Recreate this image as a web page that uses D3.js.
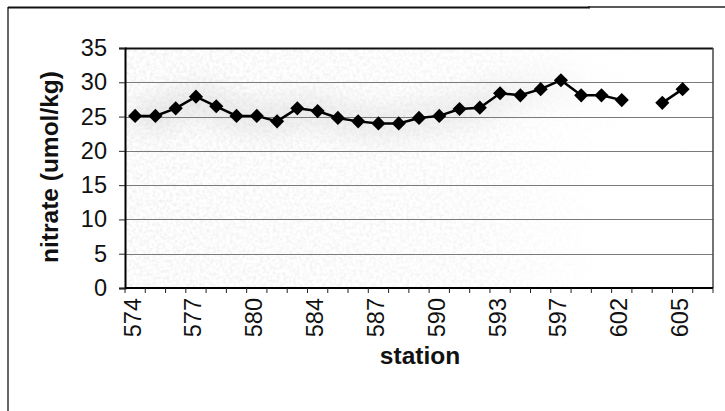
<!DOCTYPE html>
<html>
<head>
<meta charset="utf-8">
<script src="https://cdn.jsdelivr.net/npm/d3@7"></script>
<style>
  html, body { margin: 0; padding: 0; background: #fff; }
  svg { display: block; }
</style>
</head>
<body>
<svg id="chart" width="725" height="411"></svg>
<script>
// Stations along the transect (only every third one is labelled)
const stations = ["574","575","576","577","578","579","580","581","583","584",
                  "585","586","587","588","589","590","591","592","593","594",
                  "596","597","598","600","602","603","604","605","606"];
// Nitrate concentration (umol/kg); null = no sample
const nitrate = [25.1, 25.1, 26.2, 27.9, 26.5, 25.1, 25.1, 24.3, 26.2, 25.8,
                 24.8, 24.3, 24.0, 24.0, 24.8, 25.1, 26.1, 26.3, 28.4, 28.1,
                 29.0, 30.3, 28.1, 28.1, 27.4, null, 27.0, 29.0, null];
const labelledStations = ["574","577","580","584","587","590","593","597","602","605"];
const yTicks = [0, 5, 10, 15, 20, 25, 30, 35];

const svg = d3.select("#chart");
const plot = { left: 125, right: 713, top: 48, bottom: 288 };
const font = "'Liberation Sans', Arial, sans-serif";

const x = d3.scaleBand().domain(stations).range([plot.left, plot.right]).padding(0);
const y = d3.scaleLinear().domain([0, 35]).range([plot.bottom, plot.top]);

// outer chart frame (left and top edges)
svg.append("line").attr("x1", 8).attr("x2", 8).attr("y1", 7).attr("y2", 411)
  .attr("stroke", "#333").attr("stroke-width", 1.5);
svg.append("line").attr("x1", 8).attr("x2", 590).attr("y1", 7.5).attr("y2", 7.5)
  .attr("stroke", "#111").attr("stroke-width", 2);
svg.append("line").attr("x1", 588).attr("x2", 725).attr("y1", 7).attr("y2", 7)
  .attr("stroke", "#222").attr("stroke-width", 1.5);

// plot-area shading: grainy grey wash, heavier on the left half
const defs = svg.append("defs");
const grain = defs.append("filter").attr("id", "grain")
  .attr("x", 0).attr("y", 0).attr("width", 1).attr("height", 1);
grain.append("feTurbulence").attr("type", "fractalNoise")
  .attr("baseFrequency", 0.3).attr("numOctaves", 3).attr("seed", 11).attr("result", "n");
grain.append("feColorMatrix").attr("in", "n").attr("type", "matrix")
  .attr("values", "0 0 0 0 0.6  0 0 0 0 0.6  0 0 0 0 0.6  0 0 0 -1.3 0.85");
grain.append("feComposite").attr("in2", "SourceGraphic").attr("operator", "in");

const fade = defs.append("linearGradient").attr("id", "fade")
  .attr("x1", 0).attr("x2", 1).attr("y1", 0).attr("y2", 0);
fade.append("stop").attr("offset", 0).attr("stop-color", "#fff").attr("stop-opacity", 1);
fade.append("stop").attr("offset", 0.6).attr("stop-color", "#fff").attr("stop-opacity", 0.75);
fade.append("stop").attr("offset", 0.8).attr("stop-color", "#fff").attr("stop-opacity", 0.1);
fade.append("stop").attr("offset", 1).attr("stop-color", "#fff").attr("stop-opacity", 0);
defs.append("mask").attr("id", "fadeMask")
  .append("rect").attr("x", plot.left).attr("y", plot.top)
  .attr("width", plot.right - plot.left).attr("height", plot.bottom - plot.top)
  .attr("fill", "url(#fade)");

defs.append("filter").attr("id", "soft")
  .attr("x", -0.2).attr("y", -1).attr("width", 1.4).attr("height", 3)
  .append("feGaussianBlur").attr("stdDeviation", 12);
defs.append("clipPath").attr("id", "plotClip").append("rect")
  .attr("x", plot.left).attr("y", plot.top)
  .attr("width", plot.right - plot.left).attr("height", plot.bottom - plot.top);

const wash = svg.append("g").attr("clip-path", "url(#plotClip)").attr("mask", "url(#fadeMask)");
wash.append("rect").attr("x", plot.left).attr("y", plot.top)
  .attr("width", plot.right - plot.left).attr("height", plot.bottom - plot.top)
  .attr("fill", "#fff").attr("filter", "url(#grain)").attr("opacity", 0.45);
// soft smudge behind the data trace
wash.append("path")
  .attr("d", d3.line().defined(d => d[1] != null).curve(d3.curveBasis)
    .x(d => x(d[0]) + x.bandwidth() / 2).y(d => y(d[1]))(stations.map((s, i) => [s, nitrate[i]])))
  .attr("fill", "none").attr("stroke", "#bdbdbd").attr("stroke-width", 30)
  .attr("opacity", 0.35).attr("filter", "url(#soft)");

// horizontal gridlines
svg.append("g").selectAll("line").data(yTicks.filter(t => t > 0))
  .join("line")
  .attr("x1", plot.left).attr("x2", plot.right)
  .attr("y1", d => Math.round(y(d)) + 0.5).attr("y2", d => Math.round(y(d)) + 0.5)
  .attr("stroke", d => d === 35 ? "#111" : "#7a7a7a")
  .attr("stroke-width", d => d === 35 ? 2 : 1.1);

// plot frame right edge
svg.append("line").attr("x1", plot.right).attr("x2", plot.right)
  .attr("y1", plot.top).attr("y2", plot.bottom)
  .attr("stroke", "#444").attr("stroke-width", 1.5);

// y axis
const yAxis = d3.axisLeft(y).tickValues(yTicks).tickSize(6).tickPadding(12);
const gy = svg.append("g").attr("transform", `translate(${plot.left},0)`).call(yAxis);
gy.select(".domain").attr("stroke", "#000").attr("stroke-width", 2);
gy.selectAll(".tick line").attr("stroke", "#222").attr("stroke-width", 1);
gy.selectAll(".tick text")
  .attr("font-family", font).attr("font-size", 23.5).attr("fill", "#111");

// x axis: ticks on category boundaries, labels on every third station
const gx = svg.append("g").attr("transform", `translate(0,${plot.bottom})`);
gx.append("line").attr("x1", plot.left).attr("x2", plot.right).attr("y1", 0).attr("y2", 0)
  .attr("stroke", "#000").attr("stroke-width", 2);
gx.selectAll("line.tick").data(stations.concat([null]))
  .join("line").attr("class", "tick")
  .attr("x1", (d, i) => plot.left + i * x.bandwidth())
  .attr("x2", (d, i) => plot.left + i * x.bandwidth())
  .attr("y1", 0).attr("y2", 5).attr("stroke", "#222").attr("stroke-width", 1);
gx.selectAll("text").data(labelledStations)
  .join("text")
  .attr("transform", d => `translate(${x(d) + x.bandwidth() / 2 - 3},10) rotate(-90)`)
  .attr("dy", "0.36em")
  .attr("text-anchor", "end")
  .attr("font-family", font).attr("font-size", 23.5).attr("fill", "#111")
  .text(d => d);

// axis titles
svg.append("text")
  .attr("transform", `translate(49,${(plot.top + plot.bottom) / 2 - 1}) rotate(-90)`)
  .attr("dy", "0.35em").attr("text-anchor", "middle")
  .attr("font-family", font)
  .attr("font-weight", "bold").attr("font-size", 24.5).attr("fill", "#111")
  .text("nitrate (umol/kg)");
svg.append("text")
  .attr("x", 420).attr("y", 364).attr("text-anchor", "middle")
  .attr("font-family", font)
  .attr("font-weight", "bold").attr("font-size", 24.5).attr("fill", "#111")
  .text("station");

// data line with gaps and diamond markers
const pts = stations.map((s, i) => ({ s, v: nitrate[i] }));
svg.append("path")
  .attr("d", d3.line().defined(d => d.v != null)
    .x(d => x(d.s) + x.bandwidth() / 2).y(d => y(d.v))(pts))
  .attr("fill", "none").attr("stroke", "#000").attr("stroke-width", 2.5);
svg.append("g").selectAll("path").data(pts.filter(d => d.v != null))
  .join("path")
  .attr("d", d3.symbol(d3.symbolSquare, 100)())
  .attr("transform", d => `translate(${x(d.s) + x.bandwidth() / 2},${y(d.v)}) rotate(45)`)
  .attr("fill", "#000");
</script>
</body>
</html>
